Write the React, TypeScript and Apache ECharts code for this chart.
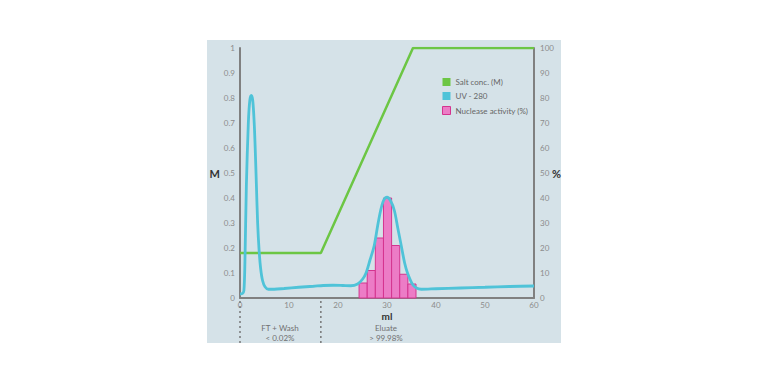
import React, { useEffect, useRef } from "react";
import * as echarts from "echarts";

const saltData: [number, number][] = [[0, 0.18], [16.5, 0.18], [35.3, 1], [60, 1]];
const uvData: [number, number][] = [
  [0, 0.016], [0.5, 0.018], [0.8, 0.03], [1.0, 0.14], [1.3, 0.45], [1.7, 0.7], [2.0, 0.79], [2.3, 0.81],
  [2.6, 0.79], [2.9, 0.7], [3.1, 0.6], [3.35, 0.45], [3.6, 0.3], [3.9, 0.19], [4.2, 0.12], [4.6, 0.07],
  [5.1, 0.045], [5.8, 0.035], [7, 0.035], [9, 0.038], [12, 0.043], [15, 0.047], [17, 0.05], [19, 0.051],
  [21, 0.05], [22.6, 0.049], [24, 0.056], [25, 0.075], [25.7, 0.099], [26.5, 0.15], [27.4, 0.21],
  [28.1, 0.29], [28.7, 0.35], [29.3, 0.39], [30, 0.403], [30.7, 0.39], [31.5, 0.35], [32.2, 0.28],
  [32.9, 0.21], [33.6, 0.14], [34.2, 0.099], [35.2, 0.055], [36, 0.04], [37, 0.035], [40, 0.037],
  [45, 0.04], [50, 0.043], [55, 0.046], [60, 0.048],
];
const binStarts = [24.3, 25.96, 27.62, 29.28, 30.94, 32.6, 34.26];
const binWidth = 1.66;
const nucleaseActivity = [6, 11, 24, 40, 21, 9.5, 5.6];
const fractionMarks = [0, 16.5];
const xTicks = { min: 0, max: 60, interval: 10 };

export default function App() {
  const ref = useRef<HTMLDivElement>(null);
  useEffect(() => {
    if (!ref.current) return;
    const chart = echarts.init(ref.current, undefined, { renderer: "svg" });
    const font = "Lato, 'Open Sans', sans-serif";
    const tickLabel = { color: "#8c8c8c", fontSize: 8, fontFamily: font };
    const axisLine = { show: true, lineStyle: { color: "#808080", width: 2 } };
    const nameStyle = { color: "#333", fontSize: 11, fontWeight: "bold", fontFamily: font };
    const note = (text: string, x: number, y: number) => ({
      type: "text",
      x,
      y,
      style: { text, align: "center", verticalAlign: "middle", fill: "#707070", fontSize: 8, fontFamily: font },
    });
    chart.setOption({
      animation: false,
      textStyle: { fontFamily: font },
      graphic: [
        { type: "rect", z: -10, shape: { x: 207, y: 40, width: 354, height: 303 }, style: { fill: "#d5e2e8" } },
        note("FT + Wash", 280, 328),
        note("< 0.02%", 280, 338),
        note("Eluate", 386, 328),
        note("> 99.98%", 386, 338),
      ],
      legend: {
        orient: "vertical",
        left: 437,
        top: 73,
        itemWidth: 8,
        itemHeight: 8,
        itemGap: 6,
        icon: "rect",
        textStyle: { color: "#666", fontSize: 8, fontFamily: font },
        data: [
          { name: "Salt conc. (M)" },
          { name: "UV - 280" },
          { name: "Nuclease activity (%)", itemStyle: { color: "#ec7cc6", borderColor: "#d4348f", borderWidth: 1 } },
        ],
      },
      grid: { left: 240, right: 234, top: 48, bottom: 86 },
      xAxis: {
        type: "value",
        ...xTicks,
        name: "ml",
        nameLocation: "middle",
        nameGap: 13,
        nameMoveOverlap: false,
        nameTextStyle: { ...nameStyle, fontSize: 10 },
        axisLine,
        axisTick: { show: false },
        splitLine: { show: false },
        axisLabel: { ...tickLabel, margin: 3 },
      },
      yAxis: [
        {
          type: "value",
          min: 0,
          max: 1,
          interval: 0.1,
          name: "M",
          nameLocation: "middle",
          nameRotate: 0,
          nameGap: 20,
          nameMoveOverlap: false,
          nameTextStyle: nameStyle,
          axisLine,
          axisTick: { show: false },
          splitLine: { show: false },
          axisLabel: { ...tickLabel, margin: 5 },
        },
        {
          type: "value",
          min: 0,
          max: 100,
          interval: 10,
          position: "right",
          name: "%",
          nameLocation: "middle",
          nameRotate: 0,
          nameGap: 18,
          nameMoveOverlap: false,
          nameTextStyle: nameStyle,
          axisLine,
          axisTick: { show: false },
          splitLine: { show: false },
          axisLabel: { ...tickLabel, margin: 6 },
        },
      ],
      series: [
        {
          name: "Nuclease activity (%)",
          type: "custom",
          yAxisIndex: 1,
          z: 1,
          itemStyle: { color: "#ec7cc6", borderColor: "#d4348f" },
          data: binStarts.map((s, i) => [s, s + binWidth, nucleaseActivity[i]]),
          renderItem: (params: any, api: any) => {
            const p0 = api.coord([api.value(0), 0]);
            const p1 = api.coord([api.value(1), api.value(2)]);
            return {
              type: "rect",
              shape: { x: p0[0], y: p1[1], width: p1[0] - p0[0], height: p0[1] - p1[1] },
              style: { fill: "#ec7cc6", stroke: "#d4348f", lineWidth: 1 },
            };
          },
        },
        {
          name: "Salt conc. (M)",
          type: "line",
          data: saltData,
          symbol: "none",
          z: 3,
          color: "#6cc644",
          lineStyle: { color: "#6cc644", width: 2.5 },
        },
        {
          name: "UV - 280",
          type: "line",
          data: uvData,
          symbol: "none",
          smooth: 0.3,
          z: 4,
          color: "#4fc3d8",
          lineStyle: { color: "#4fc3d8", width: 2.8 },
        },
        {
          name: "fractions",
          type: "custom",
          clip: false,
          silent: true,
          data: fractionMarks.map((m) => [m, 0]),
          renderItem: (params: any, api: any) => {
            const p = api.coord([api.value(0), 0]);
            return {
              type: "line",
              shape: { x1: p[0], y1: p[1] + 3, x2: p[0], y2: p[1] + 45 },
              style: { stroke: "#777", lineWidth: 1.5, lineDash: [2, 3] },
            };
          },
        },
      ],
    });
    return () => chart.dispose();
  }, []);
  return (
    <div style={{ position: "absolute", left: 0, top: 0, width: 768, height: 384, background: "#fff" }}>
      <div ref={ref} style={{ width: 768, height: 384 }} />
    </div>
  );
}
